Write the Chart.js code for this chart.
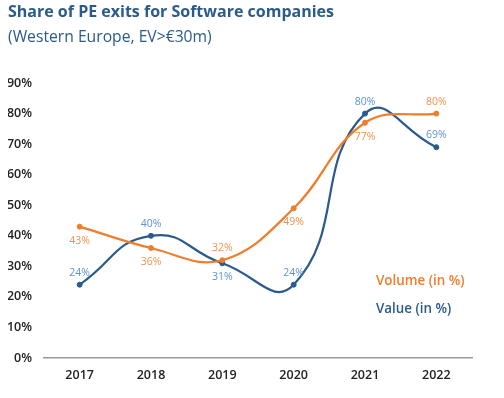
<!DOCTYPE html>
<html>
<head>
<meta charset="utf-8">
<script src="https://cdn.jsdelivr.net/npm/chart.js@4/dist/chart.umd.min.js"></script>
<style>
  body { margin: 0; background: #fff; }
  #wrap { width: 504px; height: 398px; }
</style>
</head>
<body>
<div id="wrap"><canvas id="chart" width="504" height="398"></canvas></div>
<script>
// data
const years = ['2017', '2018', '2019', '2020', '2021', '2022'];
const volume = [43, 36, 32, 49, 77, 80];
const value = [24, 40, 31, 24, 80, 69];
// where each label sits: 'a' above the point, 'b' below
const volumePos = ['b', 'b', 'a', 'b', 'b', 'a'];
const valuePos = ['a', 'a', 'b', 'a', 'a', 'a'];

const orange = '#f07d2b';
const blue = '#2b5a8c';
const orangeLabel = '#f2944f';
const blueLabel = '#5f93d0';

// draws the % next to every point and the coloured series names
const labelsPlugin = {
    id: 'pointLabels',
    afterDatasetsDraw(chart) {
        const c = chart.ctx;
        const sets = [
            { idx: 0, data: volume, pos: volumePos, color: orangeLabel },
            { idx: 1, data: value, pos: valuePos, color: blueLabel },
        ];
        c.save();
        c.font = '10.5px "Open Sans"';
        c.textAlign = 'center';
        c.textBaseline = 'middle';
        sets.forEach(s => {
            const meta = chart.getDatasetMeta(s.idx);
            c.fillStyle = s.color;
            meta.data.forEach((pt, i) => {
                const dy = s.pos[i] === 'a' ? -12 : 14;
                c.fillText(s.data[i] + '%', pt.x, pt.y + dy);
            });
        });
        // series names
        const area = chart.chartArea;
        c.textAlign = 'left';
        c.font = '600 13.4px "Open Sans"';
        c.fillStyle = orange;
        c.fillText('Volume (in %)', area.left + 332, chart.scales.y.getPixelForValue(25));
        c.fillStyle = blue;
        c.fillText('Value (in %)', area.left + 332, chart.scales.y.getPixelForValue(16));
        c.restore();
    },
};

const ctx = document.getElementById('chart').getContext('2d');
const chart = new Chart(ctx, {
    type: 'line',
    data: {
        labels: years,
        datasets: [
            {
                label: 'Volume (in %)',
                data: volume,
                borderColor: orange,
                backgroundColor: orange,
                borderWidth: 2.2,
                pointRadius: 2.5,
                pointBorderWidth: 1,
                tension: 0.4,
            },
            {
                label: 'Value (in %)',
                data: value,
                borderColor: blue,
                backgroundColor: blue,
                borderWidth: 2.2,
                pointRadius: 2.5,
                pointBorderWidth: 1,
                tension: 0.5,
            },
        ],
    },
    options: {
        responsive: false,
        animation: false,
        layout: {
            padding: { left: 8, right: 32, top: 3, bottom: 5 },
        },
        plugins: {
            legend: { display: false },
            tooltip: { enabled: false },
            title: {
                display: true,
                text: 'Share of PE exits for Software companies',
                align: 'start',
                color: blue,
                font: { family: 'Open Sans', size: 16, weight: 'bold' },
                padding: { top: 0, bottom: 6 },
            },
            subtitle: {
                display: true,
                text: '(Western Europe, EV>€30m)',
                align: 'start',
                color: blue,
                font: { family: 'Open Sans', size: 15.7 },
                padding: { top: 0, bottom: 36 },
            },
        },
        scales: {
            x: {
                offset: true,
                grid: { display: false, drawTicks: false },
                border: { display: true, color: '#9a9a9a', width: 1.5 },
                ticks: {
                    color: '#222',
                    padding: 10,
                    font: { family: 'Open Sans', size: 12.5, weight: '600' },
                },
            },
            y: {
                min: 0,
                max: 90,
                grid: { display: false, drawTicks: false },
                border: { display: false },
                afterFit: scale => { scale.width = 36; },
                ticks: {
                    stepSize: 10,
                    color: '#222',
                    padding: 12,
                    font: { family: 'Open Sans', size: 12.5, weight: '600' },
                    callback: v => v + '%',
                },
            },
        },
    },
    plugins: [labelsPlugin],
});
</script>
</body>
</html>
